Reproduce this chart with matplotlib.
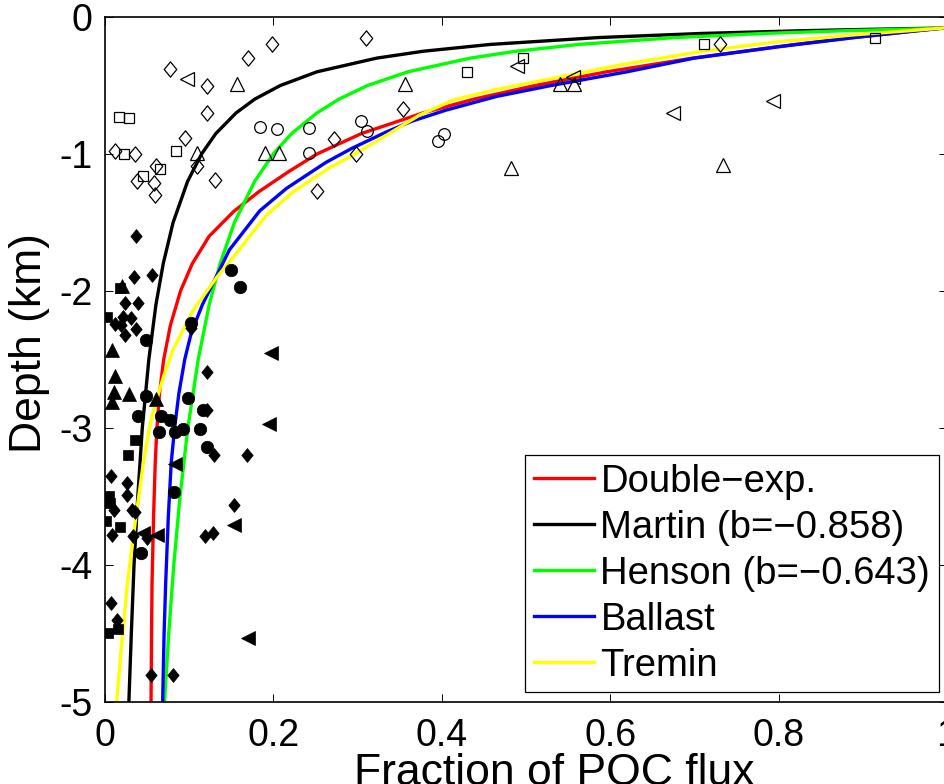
import matplotlib
matplotlib.use('Agg')
import matplotlib.pyplot as plt
from matplotlib.path import Path
from matplotlib.lines import Line2D

plt.rcParams['font.family'] = ['Liberation Sans', 'DejaVu Sans']

# ---------------- model curves (fraction of POC flux vs depth in km) -------------
double_exp_depth = [0.078, 0.10, 0.15, 0.20, 0.30, 0.40, 0.50, 0.60, 0.70, 0.85, 1.00,
                    1.13, 1.275, 1.42, 1.60, 1.80, 2.00, 2.25, 2.50, 2.75, 3.00, 3.25,
                    3.65, 4.13, 4.50, 5.00]
double_exp_frac = [1.0, 0.965, 0.889, 0.82, 0.698, 0.596, 0.511, 0.438, 0.378, 0.305, 0.252,
                   0.218, 0.183, 0.153, 0.124, 0.104, 0.090, 0.078, 0.070, 0.065, 0.062, 0.060,
                   0.058, 0.0562, 0.0556, 0.055]

martin_depth = [0.08, 0.09, 0.10, 0.12, 0.15, 0.20, 0.25, 0.30, 0.40, 0.50, 0.60, 0.70,
                0.85, 1.0, 1.2, 1.5, 1.8, 2.1, 2.5, 3.0, 3.5, 4.0, 4.5, 5.0]
martin_frac = [1.0, 0.907, 0.829, 0.709, 0.586, 0.458, 0.378, 0.323, 0.252, 0.2085, 0.178, 0.156,
               0.132, 0.115, 0.0984, 0.0812, 0.0695, 0.0608, 0.0524, 0.0446, 0.0393, 0.0348,
               0.0316, 0.0287]

henson_depth = [0.082, 0.09, 0.10, 0.12, 0.15, 0.20, 0.25, 0.30, 0.40, 0.50, 0.60, 0.70,
                0.85, 1.0, 1.2, 1.5, 1.8, 2.1, 2.5, 3.0, 3.5, 4.0, 4.5, 5.0]
henson_frac = [1.0, 0.941, 0.879, 0.782, 0.677, 0.563, 0.488, 0.434, 0.360, 0.312, 0.278, 0.252,
               0.222, 0.200, 0.178, 0.154, 0.137, 0.124, 0.111, 0.0987, 0.0894, 0.0820,
               0.0760, 0.0710]

ballast_depth = [0.078, 0.10, 0.15, 0.217, 0.30, 0.40, 0.50, 0.58, 0.68, 0.76, 0.84, 0.96,
                 1.06, 1.25, 1.415, 1.55, 1.70, 1.90, 2.10, 2.30, 2.50, 2.75, 3.00, 3.25,
                 3.65, 4.13, 4.50, 5.00]
ballast_frac = [1.0, 0.965, 0.89, 0.80, 0.70, 0.62, 0.53, 0.465, 0.405, 0.365, 0.334, 0.293,
                0.263, 0.216, 0.184, 0.167, 0.148, 0.132, 0.116, 0.103, 0.095, 0.088, 0.083,
                0.079, 0.0755, 0.0724, 0.0705, 0.0688]

tremin_depth = [0.078, 0.10, 0.13, 0.18, 0.25, 0.35, 0.447, 0.533, 0.606, 0.715, 0.861,
                1.007, 1.10, 1.275, 1.44, 1.60, 1.72, 1.90, 2.14, 2.43, 2.63, 2.87, 3.00,
                3.25, 3.65, 4.13, 4.62, 5.00]
tremin_frac = [1.0, 0.955, 0.89, 0.80, 0.71, 0.612, 0.533, 0.462, 0.414, 0.374, 0.335,
               0.295, 0.267, 0.224, 0.193, 0.172, 0.157, 0.133, 0.105, 0.081, 0.0696, 0.058,
               0.053, 0.046, 0.037, 0.027, 0.0195, 0.0142]

# ---------------- observations: open symbols (shallow) ----------------
open_diamond_frac = [0.078, 0.170, 0.199, 0.122, 0.122, 0.095, 0.012, 0.036, 0.061, 0.110,
                     0.038, 0.059, 0.060, 0.131, 0.252, 0.272, 0.310, 0.354, 0.298, 0.730]
open_diamond_depth = [-0.38, -0.30, -0.20, -0.50, -0.70, -0.88, -0.976, -1.00, -1.09, -1.09,
                      -1.20, -1.21, -1.30, -1.19, -1.27, -0.89, -0.15, -0.67, -1.00, -0.20]

open_square_frac = [0.017, 0.029, 0.085, 0.023, 0.066, 0.045, 0.430, 0.497, 0.712, 0.915]
open_square_depth = [-0.73, -0.735, -0.976, -1.00, -1.11, -1.16, -0.40, -0.30, -0.20, -0.15]

open_circle_frac = [0.184, 0.205, 0.242, 0.242, 0.304, 0.311, 0.396, 0.403]
open_circle_depth = [-0.805, -0.82, -0.81, -0.995, -0.76, -0.83, -0.905, -0.856]

open_triup_frac = [0.157, 0.109, 0.190, 0.207, 0.356, 0.482, 0.541, 0.557, 0.734]
open_triup_depth = [-0.49, -0.99, -0.99, -0.99, -0.49, -1.10, -0.49, -0.49, -1.08]

open_trileft_frac = [0.098, 0.489, 0.556, 0.675, 0.794]
open_trileft_depth = [-0.455, -0.36, -0.44, -0.70, -0.61]

# ---------------- observations: filled symbols (deep) ----------------
filled_diamond_frac = [0.037, 0.035, 0.056, 0.024, 0.039, 0.012, 0.022, 0.031, 0.024, 0.037,
                       0.019, 0.102, 0.122, 0.122, 0.130, 0.169, 0.0075, 0.026, 0.027, 0.011,
                       0.032, 0.036, 0.154, 0.009, 0.034, 0.050, 0.119, 0.128, 0.0075, 0.015,
                       0.055, 0.081]
filled_diamond_depth = [-1.60, -1.90, -1.88, -2.09, -2.09, -2.24, -2.19, -2.20, -2.32, -2.28,
                        -2.25, -2.27, -2.59, -2.87, -3.20, -3.20, -3.35, -3.40, -3.49, -3.60,
                        -3.60, -3.61, -3.56, -3.78, -3.79, -3.80, -3.79, -3.77, -4.28, -4.40,
                        -4.80, -4.80]

filled_circle_frac = [0.049, 0.102, 0.150, 0.161, 0.049, 0.099, 0.040, 0.067, 0.0775, 0.117,
                      0.064, 0.0835, 0.0926, 0.113, 0.121, 0.082, 0.043]
filled_circle_depth = [-2.36, -2.23, -1.85, -1.97, -2.77, -2.78, -2.91, -2.91, -2.94, -2.87,
                       -3.03, -3.03, -3.01, -3.01, -3.14, -3.47, -3.91]

filled_square_frac = [0.018, 0.003, 0.036, 0.028, 0.005, 0.0063, 0.002, 0.018, 0.004, 0.016]
filled_square_depth = [-1.98, -2.19, -3.09, -3.20, -3.50, -3.55, -3.68, -3.72, -4.50, -4.47]

filled_triup_frac = [0.020, 0.009, 0.012, 0.011, 0.029, 0.009, 0.061]
filled_triup_depth = [-1.96, -2.43, -2.62, -2.74, -2.75, -2.81, -2.79]

filled_trileft_frac = [0.198, 0.195, 0.0835, 0.153, 0.046, 0.062, 0.170]
filled_trileft_depth = [-2.455, -2.97, -3.26, -3.71, -3.77, -3.78, -4.53]

x_ticks = [0, 0.2, 0.4, 0.6, 0.8, 1.0]
x_tick_labels = ['0', '0.2', '0.4', '0.6', '0.8', '1']
y_ticks = [-5, -4, -3, -2, -1, 0]
y_tick_labels = ['-5', '-4', '-3', '-2', '-1', '0']

curve_labels = ['Double\u2212exp.', 'Martin (b=\u22120.858)', 'Henson (b=\u22120.643)',
                'Ballast', 'Tremin']
curve_colors = ['#ff0000', '#000000', '#00ff00', '#0000ff', '#ffff00']

# ---------------- figure ----------------
fig = plt.figure(figsize=(9.45, 7.84), dpi=100)
ax = fig.add_axes([0.1108, 0.1046, 0.8913, 0.8737])

curves = [(double_exp_frac, double_exp_depth), (martin_frac, martin_depth),
          (henson_frac, henson_depth), (ballast_frac, ballast_depth),
          (tremin_frac, tremin_depth)]
for (fr, dp), col in zip(curves, curve_colors):
    ax.plot(fr, [-d for d in dp], color=col, lw=2.4, zorder=2, solid_capstyle='butt')

diamond = Path([(0, 1), (0.82, 0), (0, -1), (-0.82, 0), (0, 1)],
               [Path.MOVETO, Path.LINETO, Path.LINETO, Path.LINETO, Path.CLOSEPOLY])

mew_open = 0.9
ax.plot(open_diamond_frac, open_diamond_depth, ls='none', marker=diamond, ms=11,
        mfc='none', mec='k', mew=mew_open, zorder=3)
ax.plot(open_square_frac, open_square_depth, ls='none', marker='s', ms=6.5,
        mfc='none', mec='k', mew=mew_open, zorder=3)
ax.plot(open_circle_frac, open_circle_depth, ls='none', marker='o', ms=8.4,
        mfc='none', mec='k', mew=mew_open, zorder=3)
ax.plot(open_triup_frac, open_triup_depth, ls='none', marker='^', ms=9.5,
        mfc='none', mec='k', mew=mew_open, zorder=3)
ax.plot(open_trileft_frac, open_trileft_depth, ls='none', marker='<', ms=9.5,
        mfc='none', mec='k', mew=mew_open, zorder=3)

ax.plot(filled_diamond_frac, filled_diamond_depth, ls='none', marker=diamond, ms=10,
        mfc='k', mec='k', mew=0.5, zorder=3)
ax.plot(filled_circle_frac, filled_circle_depth, ls='none', marker='o', ms=9,
        mfc='k', mec='k', mew=0.5, zorder=3)
ax.plot(filled_square_frac, filled_square_depth, ls='none', marker='s', ms=7,
        mfc='k', mec='k', mew=0.5, zorder=3)
ax.plot(filled_triup_frac, filled_triup_depth, ls='none', marker='^', ms=9.5,
        mfc='k', mec='k', mew=0.5, zorder=3)
ax.plot(filled_trileft_frac, filled_trileft_depth, ls='none', marker='<', ms=9.5,
        mfc='k', mec='k', mew=0.5, zorder=3)

ax.set_xlim(0, 1)
ax.set_ylim(-5, 0)
ax.set_xticks(x_ticks)
ax.set_xticklabels(x_tick_labels)
ax.set_yticks(y_ticks)
ax.set_yticklabels(y_tick_labels)
ax.tick_params(direction='in', length=6, width=0.7, top=True, right=True,
               labelsize=27, colors='k')
ax.tick_params(axis='x', pad=11.5)
ax.tick_params(axis='y', pad=9)
for sp in ax.spines.values():
    sp.set_linewidth(1.2)

ax.set_xlabel('Fraction of POC flux', fontsize=32)
ax.xaxis.set_label_coords(0.534, -0.0745)
ax.set_ylabel('Depth (km)', fontsize=32)
ax.yaxis.set_label_coords(-0.065, 0.524)

handles = [Line2D([], [], color=c, lw=2.4) for c in curve_colors]
leg = ax.legend(handles, curve_labels, loc='lower right', bbox_to_anchor=(0.990, 0.0146),
                borderaxespad=0, fontsize=27.5, handlelength=1.57, handletextpad=0.18,
                labelspacing=0.26, borderpad=0.22, frameon=True, fancybox=False,
                edgecolor='k', framealpha=1)
leg.get_frame().set_linewidth(0.9)
leg.set_zorder(5)

fig.savefig('out.png', dpi=100)
